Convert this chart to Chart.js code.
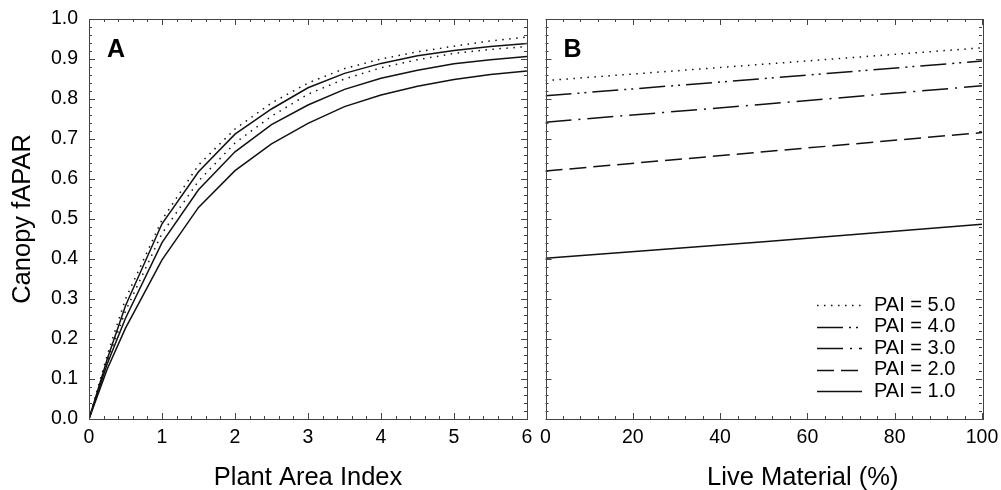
<!DOCTYPE html>
<html>
<head>
<meta charset="utf-8">
<script src="https://cdn.jsdelivr.net/npm/chart.js@4.4.1/dist/chart.umd.min.js"></script>
<style>
  html, body { margin: 0; padding: 0; background: #fff; overflow: hidden; }
  .panel { position: absolute; top: 0; height: 490px; }
  #panelA { left: 0; width: 535px; }
  #panelB { left: 535px; width: 466px; }
</style>
</head>
<body>
<div class="panel" id="panelA"><canvas id="chartA"></canvas></div>
<div class="panel" id="panelB"><canvas id="chartB"></canvas></div>
<script>
// Panel A: canopy fAPAR against plant area index
const paiSteps = [0, 0.25, 0.5, 1, 1.5, 2, 2.5, 3, 3.5, 4, 4.5, 5, 5.5, 6];
const curveDotHigh = [0, 0.16, 0.30, 0.498, 0.635, 0.725, 0.79, 0.84, 0.876, 0.90, 0.918, 0.932, 0.945, 0.955];
const curveSolidHigh = [0, 0.15, 0.283, 0.488, 0.618, 0.712, 0.775, 0.828, 0.864, 0.889, 0.908, 0.921, 0.931, 0.939];
const curveDotLow = [0, 0.145, 0.27, 0.464, 0.595, 0.69, 0.757, 0.812, 0.85, 0.878, 0.898, 0.914, 0.924, 0.931];
const curveSolidMid = [0, 0.138, 0.252, 0.441, 0.573, 0.668, 0.736, 0.785, 0.824, 0.852, 0.872, 0.888, 0.898, 0.906];
const curveSolidLow = [0, 0.125, 0.227, 0.398, 0.529, 0.621, 0.688, 0.739, 0.781, 0.81, 0.832, 0.849, 0.861, 0.87];

// Panel B: canopy fAPAR against live material, one line per PAI
const liveSteps = [0, 50, 100];
const paiLabels = ["PAI = 1.0", "PAI = 2.0", "PAI = 3.0", "PAI = 4.0", "PAI = 5.0"];
const pai1 = [0.402, 0.443, 0.487];
const pai2 = [0.62, 0.668, 0.716];
const pai3 = [0.742, 0.787, 0.833];
const pai4 = [0.808, 0.851, 0.895];
const pai5 = [0.846, 0.887, 0.928];

const xTicksA = [0, 1, 2, 3, 4, 5, 6];
const xTicksB = [0, 20, 40, 60, 80, 100];
const yTicks = [0, 0.1, 0.2, 0.3, 0.4, 0.5, 0.6, 0.7, 0.8, 0.9, 1.0];

const FONT = '"Liberation Sans", Arial, Helvetica, sans-serif';
const INK = "#111";

const toPoints = (xs, ys) => xs.map((x, i) => ({ x, y: ys[i] }));

const DOTS = [1.5, 5.5];
const DASH = [17, 7];
const DASH_DOT = [26, 7, 2, 7];
const DASH_DOT_DOT = [26, 6, 2, 5, 2, 6];

function lineSet(label, data, dash) {
  return {
    label,
    data,
    borderColor: INK,
    borderWidth: 1.5,
    borderDash: dash,
    pointRadius: 0,
    tension: 0,
    fill: false
  };
}

// box frame with inward major/minor tick marks on all four sides
const frameTicks = {
  id: "frameTicks",
  afterDatasetsDraw(chart, args, opts) {
    const { ctx, chartArea: a, scales } = chart;
    ctx.save();
    ctx.strokeStyle = "#444";
    ctx.lineWidth = 1;
    ctx.beginPath();
    const mark = (scale, minor, major, horizontal) => {
      const n = Math.round((scale.max - scale.min) / minor);
      for (let i = 0; i <= n; i++) {
        const v = scale.min + i * minor;
        const r = v / major;
        const len = Math.abs(r - Math.round(r)) < 1e-6 ? 6 : 3;
        const p = Math.round(scale.getPixelForValue(v)) + 0.5;
        if (horizontal) {
          ctx.moveTo(p, a.bottom); ctx.lineTo(p, a.bottom - len);
          ctx.moveTo(p, a.top); ctx.lineTo(p, a.top + len);
        } else {
          ctx.moveTo(a.left, p); ctx.lineTo(a.left + len, p);
          ctx.moveTo(a.right, p); ctx.lineTo(a.right - len, p);
        }
      }
    };
    mark(scales.x, opts.xMinor, opts.xMajor, true);
    mark(scales.y, opts.yMinor, opts.yMajor, false);
    ctx.stroke();
    ctx.strokeRect(Math.round(a.left) + 0.5, Math.round(a.top) + 0.5,
      Math.round(a.width), Math.round(a.height));
    ctx.restore();
  }
};

// panel letter and bottom caption
const panelText = {
  id: "panelText",
  afterDraw(chart, args, opts) {
    const { ctx, chartArea: a } = chart;
    ctx.save();
    ctx.fillStyle = "#000";
    ctx.textBaseline = "alphabetic";
    ctx.font = "bold 25px " + FONT;
    ctx.textAlign = "left";
    ctx.fillText(opts.letter, a.left + 18, a.top + 38);
    ctx.font = "25.5px " + FONT;
    ctx.textAlign = "center";
    ctx.fillText(opts.caption, (a.left + a.right) / 2 + opts.captionShift, chart.height - 5);
    ctx.restore();
  }
};

// line-sample legend in the lower right of the plot area
const lineLegend = {
  id: "lineLegend",
  afterDraw(chart, args, opts) {
    if (!opts.show) return;
    const { ctx, chartArea: a } = chart;
    const sets = chart.data.datasets.slice().reverse();
    ctx.save();
    ctx.font = "20px " + FONT;
    ctx.fillStyle = "#000";
    ctx.textBaseline = "middle";
    ctx.textAlign = "left";
    sets.forEach((ds, i) => {
      const y = a.bottom - 28 - (sets.length - 1 - i) * 21.5;
      ctx.strokeStyle = ds.borderColor;
      ctx.lineWidth = ds.borderWidth;
      ctx.setLineDash(ds.borderDash || []);
      ctx.beginPath();
      ctx.moveTo(a.right - 165, Math.round(y) + 0.5);
      ctx.lineTo(a.right - 120, Math.round(y) + 0.5);
      ctx.stroke();
      ctx.fillText(ds.label, a.right - 108, y);
    });
    ctx.restore();
  }
};

function axisX(min, max, ticks, showFn) {
  return {
    type: "linear",
    min,
    max,
    afterBuildTicks: (s) => { s.ticks = ticks.map((v) => ({ value: v })); },
    afterFit: (s) => { s.height = 71; s.paddingLeft = 0; s.paddingRight = 0; },
    grid: { display: false, drawTicks: false },
    border: { display: false },
    ticks: { padding: 7, color: "#000", autoSkip: false, maxRotation: 0,
      font: { family: FONT, size: 19.5 }, callback: showFn }
  };
}

new Chart(document.getElementById("chartA"), {
  type: "line",
  data: {
    datasets: [
      lineSet("dotted upper", toPoints(paiSteps, curveDotHigh), DOTS),
      lineSet("solid upper", toPoints(paiSteps, curveSolidHigh), []),
      lineSet("dotted lower", toPoints(paiSteps, curveDotLow), DOTS),
      lineSet("solid middle", toPoints(paiSteps, curveSolidMid), []),
      lineSet("solid lower", toPoints(paiSteps, curveSolidLow), [])
    ]
  },
  options: {
    responsive: true,
    maintainAspectRatio: false,
    animation: false,
    layout: { padding: { left: 0, top: 19, right: 8, bottom: 0 } },
    plugins: {
      legend: { display: false },
      tooltip: { enabled: false },
      frameTicks: { xMinor: 0.2, xMajor: 1, yMinor: 0.02, yMajor: 0.1 },
      panelText: { letter: "A", caption: "Plant Area Index", captionShift: 0 },
      lineLegend: { show: false }
    },
    scales: {
      x: axisX(0, 6, xTicksA, (v) => String(v)),
      y: {
        type: "linear",
        min: 0,
        max: 1,
        afterBuildTicks: (s) => { s.ticks = yTicks.map((v) => ({ value: v })); },
        afterFit: (s) => { s.width = 89; s.paddingTop = 0; s.paddingBottom = 0; },
        grid: { display: false, drawTicks: false },
        border: { display: false },
        ticks: { padding: 11, color: "#000", font: { family: FONT, size: 19.5 },
          callback: (v) => Number(v).toFixed(1) },
        title: { display: true, text: "Canopy fAPAR", color: "#000",
          font: { family: FONT, size: 25.5 }, padding: { top: 8, bottom: 0 } }
      }
    }
  },
  plugins: [frameTicks, panelText, lineLegend]
});

new Chart(document.getElementById("chartB"), {
  type: "line",
  data: {
    datasets: [
      lineSet(paiLabels[0], toPoints(liveSteps, pai1), []),
      lineSet(paiLabels[1], toPoints(liveSteps, pai2), DASH),
      lineSet(paiLabels[2], toPoints(liveSteps, pai3), DASH_DOT),
      lineSet(paiLabels[3], toPoints(liveSteps, pai4), DASH_DOT_DOT),
      lineSet(paiLabels[4], toPoints(liveSteps, pai5), DOTS)
    ]
  },
  options: {
    responsive: true,
    maintainAspectRatio: false,
    animation: false,
    layout: { padding: { left: 10.5, top: 19, right: 19, bottom: 0 } },
    plugins: {
      legend: { display: false },
      tooltip: { enabled: false },
      frameTicks: { xMinor: 4, xMajor: 20, yMinor: 0.02, yMajor: 0.1 },
      panelText: { letter: "B", caption: "Live Material (%)", captionShift: 39 },
      lineLegend: { show: true }
    },
    scales: {
      x: axisX(0, 100, xTicksB, (v) => String(v)),
      y: { type: "linear", min: 0, max: 1, display: false }
    }
  },
  plugins: [frameTicks, panelText, lineLegend]
});
</script>
</body>
</html>
